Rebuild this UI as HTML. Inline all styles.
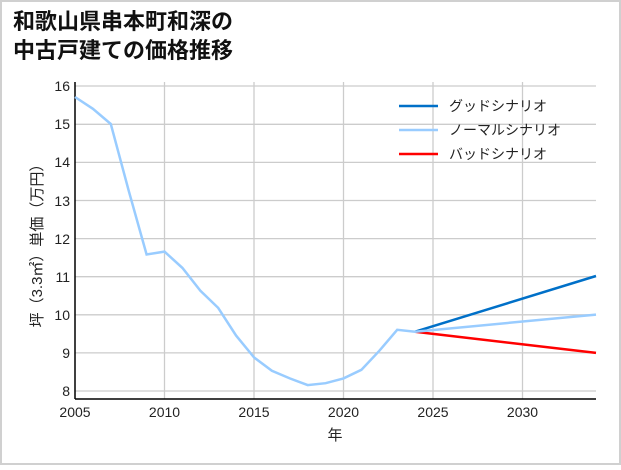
<!DOCTYPE html>
<html><head><meta charset="utf-8"><style>
body{margin:0;background:#fff;}
svg text{font-family:"Liberation Sans","Noto Sans CJK JP",sans-serif;}
</style></head><body>
<svg width="621" height="465" viewBox="0 0 621 465" xmlns="http://www.w3.org/2000/svg">
<rect x="1" y="1" width="619" height="463" fill="#fff" stroke="#d0d0d0" stroke-width="2"/>
<text x="13" y="29" font-size="22" font-weight="bold" fill="#111" style="font-family:'Noto Sans CJK JP',sans-serif">和歌山県串本町和深の</text>
<text x="13" y="58" font-size="22" font-weight="bold" fill="#111" style="font-family:'Noto Sans CJK JP',sans-serif">中古戸建ての価格推移</text>
<g stroke="#cccccc" stroke-width="1.3">
<line x1="75" x2="596" y1="391" y2="391"/><line x1="75" x2="596" y1="352.9" y2="352.9"/><line x1="75" x2="596" y1="314.8" y2="314.8"/><line x1="75" x2="596" y1="276.7" y2="276.7"/><line x1="75" x2="596" y1="238.6" y2="238.6"/><line x1="75" x2="596" y1="200.5" y2="200.5"/><line x1="75" x2="596" y1="162.4" y2="162.4"/><line x1="75" x2="596" y1="124.3" y2="124.3"/><line x1="75" x2="596" y1="86" y2="86"/>
<line x1="164.5" x2="164.5" y1="82" y2="399"/><line x1="254" x2="254" y1="82" y2="399"/><line x1="343.5" x2="343.5" y1="82" y2="399"/><line x1="433" x2="433" y1="82" y2="399"/><line x1="522.5" x2="522.5" y1="82" y2="399"/>
</g>
<line x1="75" x2="75" y1="82" y2="399" stroke="#000" stroke-width="1.5"/>
<line x1="75" x2="596" y1="399" y2="399" stroke="#000" stroke-width="1.5"/>
<g font-size="14" fill="#222" text-anchor="end">
<text x="70" y="396">8</text><text x="70" y="358">9</text><text x="70" y="320">10</text><text x="70" y="282">11</text><text x="70" y="244">12</text><text x="70" y="206">13</text><text x="70" y="167">14</text><text x="70" y="129">15</text><text x="70" y="91">16</text>
</g>
<g font-size="14" fill="#222" text-anchor="middle">
<text x="75" y="417">2005</text><text x="164.5" y="417">2010</text><text x="254" y="417">2015</text><text x="343.5" y="417">2020</text><text x="433" y="417">2025</text><text x="522.5" y="417">2030</text>
</g>
<text x="335" y="440" font-size="15" fill="#222" text-anchor="middle">年</text>
<text transform="translate(42,242) rotate(-90)" font-size="15" fill="#222" text-anchor="middle">坪（3.3㎡）単価（万円）</text>
<polyline fill="none" stroke="#0070c8" stroke-width="2.5" points="415.1,331.7 596,276"/>
<polyline fill="none" stroke="#f00" stroke-width="2.5" points="415.1,331.7 596,352.9"/>
<polyline fill="none" stroke="#99ccff" stroke-width="2.5" points="75,97 92.9,108.8 110.8,124 128.7,190.7 146.6,254.5 164.5,251.6 182.4,267.9 200.3,290.7 218.2,307.9 236.1,335.6 254,357.4 271.9,370.8 289.8,378.4 307.7,385.1 325.6,383.2 343.5,378.4 361.4,369.8 379.3,350.8 397.2,329.8 415.1,331.7 596,314.6"/>
<g font-size="14" fill="#222" style="font-family:'Noto Sans CJK JP',sans-serif">
<line x1="399" x2="438" y1="106" y2="106" stroke="#0070c8" stroke-width="2.5"/><text x="449" y="111">グッドシナリオ</text>
<line x1="399" x2="438" y1="130" y2="130" stroke="#99ccff" stroke-width="2.5"/><text x="449" y="135">ノーマルシナリオ</text>
<line x1="399" x2="438" y1="154" y2="154" stroke="#f00" stroke-width="2.5"/><text x="449" y="159">バッドシナリオ</text>
</g>
</svg>
</body></html>
